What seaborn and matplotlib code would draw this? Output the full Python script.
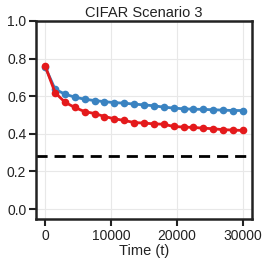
import numpy as np
import pandas as pd
import matplotlib
matplotlib.use("Agg")
import matplotlib.pyplot as plt
import seaborn as sns

time_steps = [0, 1500, 3000, 4500, 6000, 7500, 9000, 10500, 12000, 13500, 15000,
              16500, 18000, 19500, 21000, 22500, 24000, 25500, 27000, 28500, 30000]
blue_vals = [0.755, 0.637, 0.611, 0.595, 0.584, 0.577, 0.571, 0.566, 0.563, 0.558, 0.554,
             0.549, 0.542, 0.537, 0.533, 0.531, 0.530, 0.528, 0.526, 0.524, 0.524]
red_vals = [0.76, 0.619, 0.568, 0.540, 0.518, 0.508, 0.492, 0.480, 0.471, 0.460, 0.457,
            0.453, 0.451, 0.439, 0.436, 0.434, 0.430, 0.427, 0.422, 0.420, 0.418]
baseline = 0.28
title = "CIFAR Scenario 3"
xlabel = "Time (t)"
xticks = [0, 10000, 20000, 30000]
yticks = [0.0, 0.2, 0.4, 0.6, 0.8, 1.0]

sns.set_theme(style="whitegrid")
plt.rcParams['font.family'] = ['Liberation Sans', 'DejaVu Sans']
plt.rcParams['axes.edgecolor'] = '#222222'

df = pd.DataFrame({
    "t": time_steps * 2,
    "v": blue_vals + red_vals,
    "s": ["blue"] * len(blue_vals) + ["red"] * len(red_vals),
})

fig = plt.figure(figsize=(2.66, 2.66), dpi=100)
ax = fig.add_axes([36/266, 1 - 219/266, 216/266, 198/266])
sns.lineplot(data=df, x="t", y="v", hue="s", palette={"blue": "#3a83c1", "red": "#e41a1c"},
             marker="o", markersize=5.5, markeredgewidth=0, linewidth=2, legend=False, ax=ax)
ax.axhline(baseline, color="black", linestyle=(0, (4, 2.5)), linewidth=2)
ax.set_xlim(-1400, 31400)
ax.set_ylim(-0.053, 1.0)
ax.set_xticks(xticks)
ax.set_yticks(yticks)
ax.set_xticklabels([str(x) for x in xticks])
ax.set_yticklabels([f"{y:.1f}" for y in yticks])
ax.grid(True, color="#e8e8e8", linewidth=0.8)
for sp in ax.spines.values():
    sp.set_linewidth(1.8)
    sp.set_color("#222222")
ax.tick_params(axis="both", which="both", length=5, width=1.5, color="#222222",
               labelsize=10, labelcolor="#222222", pad=2, bottom=True, left=True)
ax.set_title(title, fontsize=10.5, pad=3, color="#222222")
ax.set_xlabel(xlabel, fontsize=10.5, labelpad=1, color="#222222")
ax.set_ylabel("")
fig.savefig("out.png", dpi=100)
